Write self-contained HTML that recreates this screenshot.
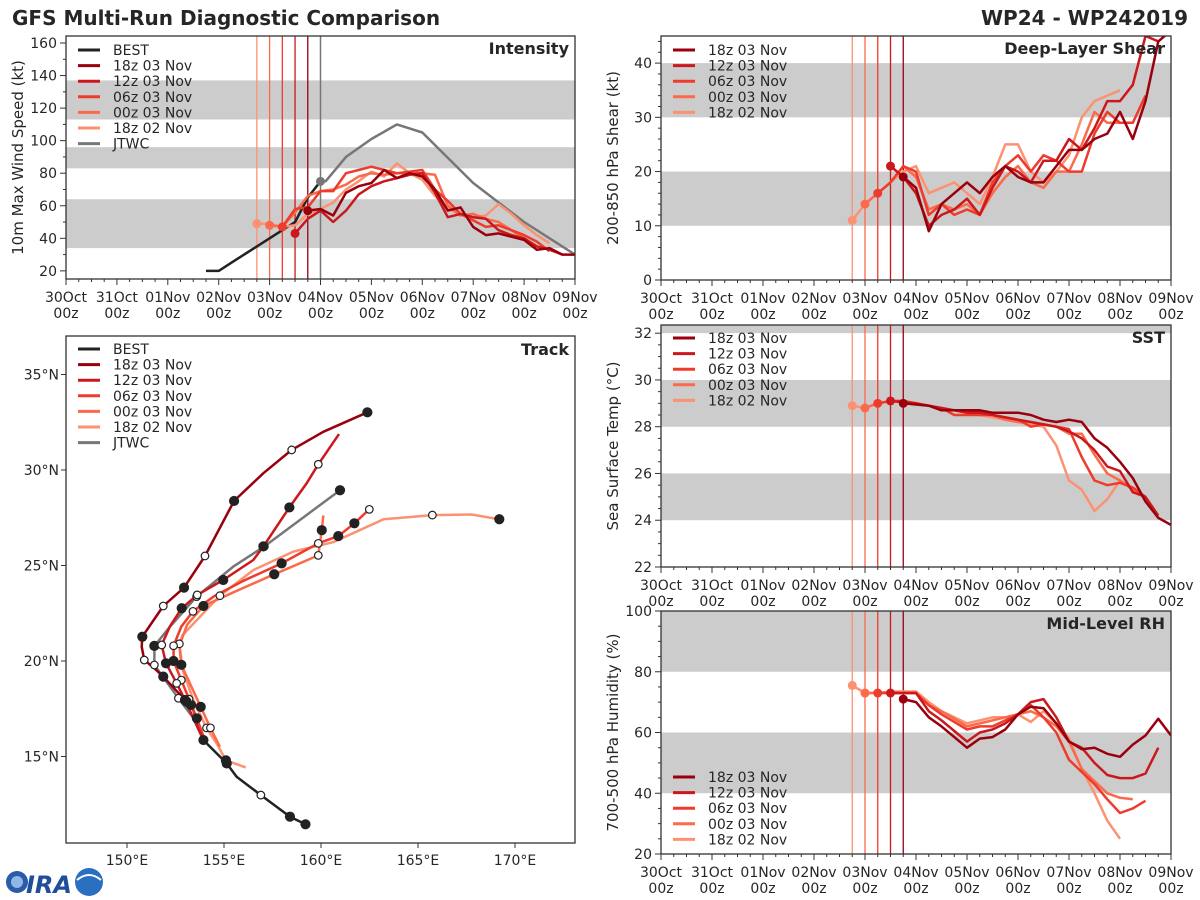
<!DOCTYPE html>
<html><head><meta charset="utf-8"><title>GFS Multi-Run Diagnostic Comparison</title>
<style>
html,body{margin:0;padding:0;background:#fff;}
svg{display:block;font-family:"DejaVu Sans","Liberation Sans",sans-serif;}
</style></head>
<body>
<svg id="fig" width="1200" height="900" viewBox="0 0 1200 900" xmlns="http://www.w3.org/2000/svg">
<rect width="1200" height="900" fill="#fff"/>
<text x="12" y="25" font-size="20" font-weight="bold" fill="#262626">GFS Multi-Run Diagnostic Comparison</text>
<text x="1188" y="25" font-size="20" font-weight="bold" fill="#262626" text-anchor="end">WP24 - WP242019</text>
<g id="layer"></g>
<g>
<circle cx="17" cy="882" r="11" fill="#2a5ca8"/><circle cx="17" cy="882" r="6" fill="#8fb7e8"/>
<text x="26" y="893" font-size="24" font-weight="bold" fill="#1f4f9a" font-style="italic">IRA</text>
<circle cx="89" cy="882" r="14" fill="#2a6fc0"/><path d="M77 880 q12 -10 24 0" stroke="#fff" stroke-width="2" fill="none"/>
</g>
</svg>
<script>
// ---------- data ----------
const dayLabels = ["30Oct","31Oct","01Nov","02Nov","03Nov","04Nov","05Nov","06Nov","07Nov","08Nov","09Nov"];
const runNames = ["18z 03 Nov","12z 03 Nov","06z 03 Nov","00z 03 Nov","18z 02 Nov"];
const runColors = ["#99000d","#cb181d","#ef3b2c","#fb6a4a","#fc9272"];
const runStarts = [4.75,4.5,4.25,4.0,3.75];

const bestTimes = [2.75,3.0,3.25,3.5,3.75,4.0,4.25,4.5,4.75,5.0];
const bestWind  = [20,20,25,30,35,40,45,50,65,75];
const jtwcTimes = [5.0,5.1,5.5,6.0,6.5,7.0,8.0,9.0,10.0];
const jtwcWind  = [75,75,90,101,110,105,74,50,30];

const int18z03 = [57,58,54,68,72,74,82,77,80,78,70,57,59,47,42,43,41,39,33,34,30,30];
const int12z03 = [43,52,57,50,57,67,72,75,77,79,80,68,53,55,53,52,45,42,40,35,33,30];
const int06z03 = [47,58,59,69,69,80,82,84,82,80,81,82,70,63,55,51,47,48,45,42,38,32];
const int00z03 = [48,47,56,66,69,70,73,78,80,79,80,80,80,79,60,54,55,52,50,45,40,35];
const int18z02 = [49,49,47,48,55,58,62,70,75,81,78,86,80,76,66,58,55,53,54,61,55,48,42,37];

const shr18z03 = [19,17,9,14,16,18,16,19,21,19,18,18,21,24,24,26,27,31,26,33,44,46];
const shr12z03 = [21,19,16,10,12,13,15,12,17,21,20,18,22,22,26,24,28,33,33,36,45,44];
const shr06z03 = [16,18,21,20,12,14,12,13,12,18,21,23,20,23,22,20,20,27,31,29,29,34];
const shr00z03 = [14,16,18,21,19,13,14,13,14,12,16,19,21,18,17,20,20,25,31,29,29,29];
const shr18z02 = [11,14,16,18,20,21,16,17,18,16,14,19,25,25,20,18,20,23,30,33,34,35];

const sst18z03 = [29.0,28.95,28.9,28.7,28.7,28.7,28.7,28.6,28.6,28.6,28.5,28.3,28.2,28.3,28.2,27.5,27.1,26.5,25.8,24.8,24.1,23.8];
const sst12z03 = [29.1,29.05,29.0,28.9,28.8,28.7,28.6,28.6,28.5,28.4,28.3,28.2,28.1,28.0,27.8,27.5,27.0,26.3,26.1,25.2,25.0,24.2];
const sst06z03 = [29.0,29.1,29.1,29.0,28.9,28.8,28.5,28.5,28.5,28.5,28.4,28.3,28.0,28.1,28.0,27.9,26.7,25.7,25.5,25.6,25.4,25.0];
const sst00z03 = [28.8,29.0,29.1,29.1,29.0,28.9,28.8,28.7,28.6,28.6,28.5,28.3,28.2,28.2,28.1,28.0,27.7,27.7,26.8,26.0,25.7,25.3,25.0];
const sst18z02 = [28.9,28.8,29.0,29.1,29.1,29.0,28.9,28.8,28.7,28.6,28.5,28.4,28.3,28.2,28.1,28.0,27.2,25.7,25.3,24.4,24.9,25.7];

const rh18z03 = [71,70,65,62,58.5,55,58,58.5,61,66,68.5,68,63,57,54.5,55,53,52,56,59,64.5,59];
const rh12z03 = [73,73,73,67,64,60.5,57,60,61,63,66,70,71,65,57,55,50,46,45,45,46.5,55];
const rh06z03 = [73,73,73,73,69,66,63.5,61,62,62,64,66,69,65,60,51,47,43,38,33.5,35,37.5];
const rh00z03 = [73,73,73,73,73,69,67,64.5,62,63,64,65,66,67,65,62,57,48,44,40,38.5,38];
const rh18z02 = [75.5,73,73,73.5,73.5,73.5,70,67,65,63,64,65,65,66,63.5,67,63,58,48,40,31,25];

// track points [lon, lat, marker] marker: 0 none, 1 filled black, 2 open
const trkBest = [[159.2,11.45,1],[158.4,11.85,1],[156.9,12.98,2],[155.65,13.94,0],[155.14,14.64,1],[153.94,15.86,1],[153.42,17.43,0],[153.3,17.7,1]];
const trkJtwc = [[153.37,17.08,0],[152.65,18.05,2],[151.41,19.79,2],[151.41,20.79,1],[152.22,21.8,0],[153.59,23.37,2],[155.48,24.94,0],[157.08,26.0,2],[160.98,28.94,1]];
const trk18z03 = [[153.07,17.87,1],[151.87,19.18,1],[151.41,19.62,0],[150.89,20.05,2],[150.76,20.75,0],[150.79,21.27,1],[151.87,22.88,2],[152.94,23.84,1],[154.02,25.5,2],[155.52,28.38,1],[157.03,29.83,0],[158.49,31.05,2],[160.12,32.0,0],[162.39,33.02,1]];
const trk12z03 = [[153.94,15.86,0],[153.5,16.82,0],[152.99,17.96,1],[152.56,18.83,2],[152.01,19.88,1],[151.79,20.84,2],[152.22,21.83,0],[152.82,22.76,1],[153.62,23.46,2],[154.96,24.24,1],[156.51,25.29,0],[157.03,26.0,1],[158.37,28.04,1],[159.26,29.3,0],[159.86,30.3,2],[160.93,31.88,0]];
const trk06z03 = [[154.0,15.9,0],[153.6,17.0,1],[153.2,18.0,2],[152.8,19.0,2],[152.4,20.0,1],[152.4,20.8,2],[152.8,21.8,0],[153.4,22.6,2],[154.5,23.4,0],[156.0,24.2,0],[157.97,25.11,1],[159.86,26.16,2],[160.89,26.54,1],[161.72,27.21,1],[162.49,27.94,2]];
const trk00z03 = [[154.79,15.51,0],[154.3,16.5,2],[153.8,17.6,1],[153.3,18.7,0],[152.8,19.8,1],[152.7,20.8,0],[153.1,21.9,0],[153.94,22.88,1],[155.5,23.6,0],[157.59,24.54,1],[159.86,25.53,2],[160.04,26.85,1],[160.12,27.62,0]];
const trk18z02 = [[156.12,14.43,0],[155.1,14.8,1],[154.62,15.69,0],[154.1,16.5,2],[153.4,18.0,0],[152.87,19.53,0],[152.7,20.9,2],[152.87,21.36,0],[154.79,23.42,2],[156.51,24.76,0],[158.57,25.73,0],[160.63,26.22,0],[163.22,27.42,0],[165.74,27.64,2],[167.77,27.67,0],[169.19,27.42,1]];
const lonTicks = [150,155,160,165,170];
const latTicks = [15,20,25,30,35];

// ---------- drawing ----------
const NS="http://www.w3.org/2000/svg";
const layer=document.getElementById('layer');
function mk(tag,attrs,parent){const e=document.createElementNS(NS,tag);for(const k in attrs)e.setAttribute(k,attrs[k]);(parent||layer).appendChild(e);return e;}
function txt(s,attrs,parent){const e=mk('text',attrs,parent);e.textContent=s;return e;}

function panel(cfg){
  const g=mk('g',{});
  
  
  const X=d=>cfg.x0+(d-0)/10*(cfg.x1-cfg.x0);
  const Y=v=>cfg.y1-(v-cfg.ymin)/(cfg.ymax-cfg.ymin)*(cfg.y1-cfg.y0);
  cfg.bands.forEach(b=>{
    const r=mk('rect',{x:cfg.x0,y:Y(b[1]),width:cfg.x1-cfg.x0,height:Y(b[0])-Y(b[1]),fill:'#cccccc'},g);
    
    
  });
  runStarts.forEach((s,i)=>{
    const l=mk('line',{x1:X(s),x2:X(s),y1:cfg.y0,y2:cfg.y1,stroke:runColors[i],'stroke-width':1.3},g);
    
    
  });
  if(cfg.jtwc){
    const l=mk('line',{x1:X(5),x2:X(5),y1:cfg.y0,y2:cfg.y1,stroke:'#777','stroke-width':1.5},g);
    
    
  }
  const clipId='clip'+cfg.name;
  const cp=mk('clipPath',{id:clipId},g);mk('rect',{x:cfg.x0,y:cfg.y0,width:cfg.x1-cfg.x0,height:cfg.y1-cfg.y0},cp);
  const sg=mk('g',{'clip-path':'url(#'+clipId+')'},g);
  function drawLine(times,vals,color,nm){
    const pts=vals.map((v,i)=>X(times[i]).toFixed(1)+','+Y(v).toFixed(1)).join(' ');
    const p=mk('polyline',{points:pts,fill:'none',stroke:color,'stroke-width':2.5,'stroke-linejoin':'round'},sg);
    
    
  }
  if(cfg.best){
    drawLine(bestTimes,bestWind,'#222','best-line');
    drawLine(jtwcTimes,jtwcWind,'#777','jtwc-line');
  }
  for(let i=cfg.runs.length-1;i>=0;i--){
    const vals=cfg.runs[i];const times=vals.map((v,j)=>runStarts[i]+j*0.25);
    drawLine(times,vals,runColors[i],'run-line-'+i);
  }
  for(let i=cfg.runs.length-1;i>=0;i--){
    const c=mk('circle',{cx:X(runStarts[i]),cy:Y(cfg.runs[i][0]),r:4.5,fill:runColors[i]},sg);
    
    
  }
  if(cfg.best){
    const c=mk('circle',{cx:X(5),cy:Y(jtwcWind[0]),r:4.5,fill:'#777'},sg);
    
    
  }
  const fr=mk('rect',{x:cfg.x0,y:cfg.y0,width:cfg.x1-cfg.x0,height:cfg.y1-cfg.y0,fill:'none',stroke:'#333','stroke-width':1.3},g);
  
  
  for(let q=0;q<=40;q++){
    const d=q/4,major=q%4===0;
    mk('line',{x1:X(d),x2:X(d),y1:cfg.y1,y2:cfg.y1+(major?6:3),stroke:'#333','stroke-width':1},g);
    if(major){
      const t1=txt(dayLabels[q/4],{x:X(d),y:cfg.y1+23,'font-size':14,'text-anchor':'middle',fill:'#262626'},g);
      
      
      const t2=txt('00z',{x:X(d),y:cfg.y1+39,'font-size':14,'text-anchor':'middle',fill:'#262626'},g);
      
      
    }
  }
  for(let v=cfg.ymin_t;v<=cfg.ymax+1e-6;v+=cfg.minor){
    const major=Math.abs((v-cfg.ymin_t)/cfg.step-Math.round((v-cfg.ymin_t)/cfg.step))<1e-6;
    mk('line',{x1:cfg.x0,x2:cfg.x0-(major?6:3),y1:Y(v),y2:Y(v),stroke:'#333','stroke-width':1},g);
    if(major){
      const t=txt(String(Math.round(v)),{x:cfg.x0-9,y:Y(v)+5,'font-size':14,'text-anchor':'end',fill:'#262626'},g);
      
      
    }
  }
  const yl=txt(cfg.ylabel,{x:0,y:0,'font-size':15,'text-anchor':'middle',fill:'#262626',transform:`translate(${cfg.x0-43},${(cfg.y0+cfg.y1)/2}) rotate(-90)`},g);
  
  
  const pt=txt(cfg.title,{x:cfg.x1-6,y:cfg.y0+18,'font-size':16,'font-weight':'bold','text-anchor':'end',fill:'#262626'},g);
  
  
  const entries=[];
  if(cfg.best)entries.push(['BEST','#222']);
  runNames.forEach((n,i)=>entries.push([n,runColors[i]]));
  if(cfg.best)entries.push(['JTWC','#777']);
  entries.forEach((e,i)=>{
    const yy=cfg.legY+i*15.6;
    const lg=mk('g',{},g);
    
    
    mk('line',{x1:cfg.x0+12,x2:cfg.x0+34,y1:yy,y2:yy,stroke:e[1],'stroke-width':3},lg);
    txt(e[0],{x:cfg.x0+47,y:yy+5,'font-size':14,fill:'#262626'},lg);
  });
}

panel({name:'intensity-panel',title:'Intensity',x0:66,x1:575,y0:36,y1:279,ymin:15,ymax:164.3,ymin_t:20,step:20,minor:10,
  bands:[[34,64],[83,96],[113,137]],runs:[int18z03,int12z03,int06z03,int00z03,int18z02],best:true,jtwc:true,
  ylabel:'10m Max Wind Speed (kt)',legY:50});
panel({name:'shear-panel',title:'Deep-Layer Shear',x0:661,x1:1171,y0:36,y1:280,ymin:0,ymax:45,ymin_t:0,step:10,minor:2,
  bands:[[10,20],[30,40]],runs:[shr18z03,shr12z03,shr06z03,shr00z03,shr18z02],
  ylabel:'200-850 hPa Shear (kt)',legY:50});
panel({name:'sst-panel',title:'SST',x0:661,x1:1171,y0:325,y1:567,ymin:22,ymax:32.35,ymin_t:22,step:2,minor:0.5,
  bands:[[24,26],[28,30],[32,32.35]],runs:[sst18z03,sst12z03,sst06z03,sst00z03,sst18z02],
  ylabel:'Sea Surface Temp (°C)',legY:338});
panel({name:'rh-panel',title:'Mid-Level RH',x0:661,x1:1171,y0:611,y1:854,ymin:20,ymax:100,ymin_t:20,step:20,minor:5,
  bands:[[40,60],[80,100]],runs:[rh18z03,rh12z03,rh06z03,rh00z03,rh18z02],
  ylabel:'700-500 hPa Humidity (%)',legY:777});

// ---------- track ----------
(function(){
  const x0=66,x1=575,y0=336,y1=843;
  const LX=lon=>127+(lon-150)*19.4;
  const LY=lat=>661-(lat-20)*19.1;
  const g=mk('g',{});
  
  
  const cp=mk('clipPath',{id:'cliptrack'},g);mk('rect',{x:x0,y:y0,width:x1-x0,height:y1-y0},cp);
  const sg=mk('g',{'clip-path':'url(#cliptrack)'},g);
  const tracks=[[trkBest,'#222','best-track'],[trkJtwc,'#777','jtwc-track'],[trk18z02,runColors[4],'track-18z02'],[trk00z03,runColors[3],'track-00z03'],[trk06z03,runColors[2],'track-06z03'],[trk12z03,runColors[1],'track-12z03'],[trk18z03,runColors[0],'track-18z03']];
  tracks.forEach(t=>{
    const p=mk('polyline',{points:t[0].map(q=>LX(q[0]).toFixed(1)+','+LY(q[1]).toFixed(1)).join(' '),fill:'none',stroke:t[1],'stroke-width':2.5,'stroke-linejoin':'round'},sg);
    
    
  });
  tracks.forEach(t=>{
    t[0].forEach(q=>{
      if(!q[2])return;
      const c=mk('circle',{cx:LX(q[0]),cy:LY(q[1]),r:q[2]===1?4.5:3.8,fill:q[2]===1?'#222':'#fff',stroke:'#222','stroke-width':1.2},sg);
      
      
    });
  });
  const fr=mk('rect',{x:x0,y:y0,width:x1-x0,height:y1-y0,fill:'none',stroke:'#333','stroke-width':1.3},g);
  
  
  lonTicks.forEach(l=>{
    mk('line',{x1:LX(l),x2:LX(l),y1:y1,y2:y1+5,stroke:'#333'},g);
    const t=txt(l+'°E',{x:LX(l),y:y1+22,'font-size':14,'text-anchor':'middle',fill:'#262626'},g);
    
    
  });
  latTicks.forEach(l=>{
    mk('line',{x1:x0,x2:x0-5,y1:LY(l),y2:LY(l),stroke:'#333'},g);
    const t=txt(l+'°N',{x:x0-7,y:LY(l)+5,'font-size':14,'text-anchor':'end',fill:'#262626'},g);
    
    
  });
  const tt=txt('Track',{x:x1-6,y:y0+19,'font-size':16,'font-weight':'bold','text-anchor':'end',fill:'#262626'},g);
  
  
  const ents=[['BEST','#222']].concat(runNames.map((n,i)=>[n,runColors[i]])).concat([['JTWC','#777']]);
  ents.forEach((e,i)=>{
    const yy=349+i*15.6;
    const lg=mk('g',{},g);
    
    
    mk('line',{x1:78,x2:100,y1:yy,y2:yy,stroke:e[1],'stroke-width':3},lg);
    txt(e[0],{x:113,y:yy+5,'font-size':14,fill:'#262626'},lg);
  });
})();
</script>
</body></html>
